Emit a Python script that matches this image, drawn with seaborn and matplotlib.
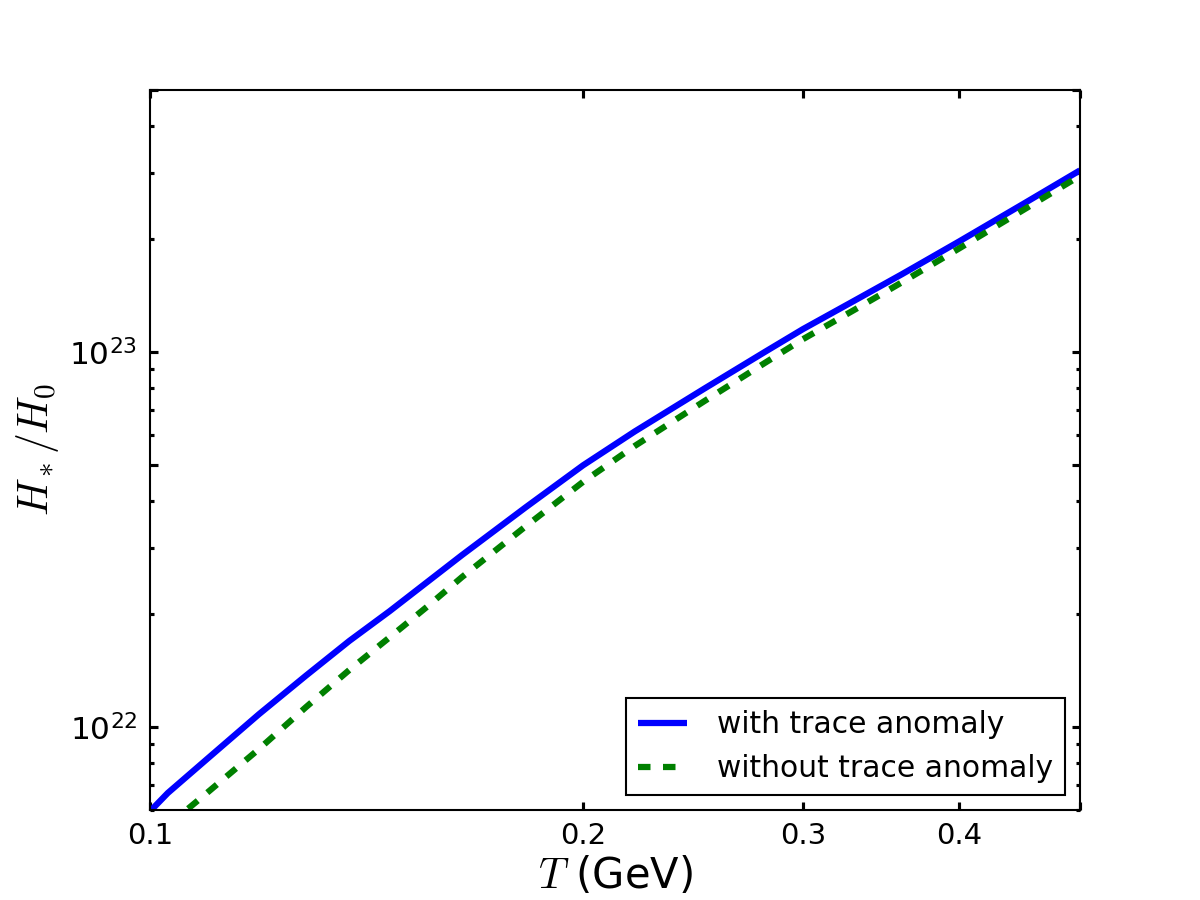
import numpy as np
import pandas as pd
import matplotlib
matplotlib.use("Agg")
import matplotlib.pyplot as plt
import seaborn as sns
from matplotlib.ticker import FixedLocator, NullLocator, FixedFormatter

# temperature grid (axis units) and the two Hubble-rate curves
T = [0.09, 0.093, 0.10, 0.11, 0.12, 0.13, 0.14, 0.15, 0.16, 0.18,
     0.20, 0.22, 0.25, 0.28, 0.30, 0.33, 0.36, 0.40, 0.45, 0.50]
with_trace = [5.95e21, 6.66e21, 8.21e21, 1.080e22, 1.370e22, 1.696e22, 2.035e22,
              2.432e22, 2.873e22, 3.856e22, 4.985e22, 6.138e22, 7.978e22,
              1.003e23, 1.151e23, 1.372e23, 1.612e23, 1.971e23, 2.480e23, 3.052e23]
without_trace = [4.96e21, 5.45e21, 6.67e21, 8.72e21, 1.129e22, 1.419e22, 1.733e22,
                 2.091e22, 2.510e22, 3.431e22, 4.504e22, 5.615e22, 7.387e22,
                 9.376e22, 1.082e23, 1.297e23, 1.534e23, 1.888e23, 2.389e23, 2.951e23]

x_ticks = [0.09, 0.2, 0.3, 0.4, 0.5]
x_ticklabels = ["0.1", "0.2", "0.3", "0.4", ""]
y_ticks = [1e22, 5e22, 1e23, 5e23]
y_ticklabels = [r"$\mathdefault{10^{22}}$", "", r"$\mathdefault{10^{23}}$", ""]

sns.set_style("ticks")
plt.rcParams["font.family"] = ["DejaVu Sans"]
plt.rcParams["mathtext.fontset"] = "cm"
plt.rcParams["text.color"] = "black"
plt.rcParams["axes.labelcolor"] = "black"

fig, ax = plt.subplots(figsize=(8, 6), dpi=150)
fig.subplots_adjust(left=0.125, right=0.9, bottom=0.1, top=0.9)

sns.lineplot(x=T, y=with_trace, ax=ax, color="blue", linewidth=3,
             solid_capstyle="butt", label="with trace anomaly")
sns.lineplot(x=T, y=without_trace, ax=ax, color="green", linewidth=3,
             linestyle=(0, (2, 2)), label="without trace anomaly")

ax.set_xscale("log")
ax.set_yscale("log")
ax.set_xlim(0.09, 0.5)
ax.set_ylim(6e21, 5e23)

ax.xaxis.set_major_locator(FixedLocator(x_ticks))
ax.xaxis.set_major_formatter(FixedFormatter(x_ticklabels))
ax.xaxis.set_minor_locator(NullLocator())

minor_y = [k * 10.0 ** e for e in (21, 22, 23) for k in range(2, 10)]
ax.yaxis.set_major_locator(FixedLocator(y_ticks))
ax.yaxis.set_major_formatter(FixedFormatter(y_ticklabels))
ax.yaxis.set_minor_locator(FixedLocator(minor_y))

ax.tick_params(which="both", direction="in", top=True, right=True,
               colors="black", labelcolor="black")
ax.tick_params(axis="x", labelsize=14)
ax.tick_params(axis="y", labelsize=15)
ax.tick_params(which="major", length=4, width=1.5, pad=6)
ax.tick_params(which="minor", length=2, width=1.5)

for spine in ax.spines.values():
    spine.set_linewidth(1.0)
    spine.set_color("black")

ax.set_xlabel(r"$T$ (GeV)", fontsize=20, labelpad=2)
ax.set_ylabel(r"$H_*/H_0$", fontsize=20)

leg = ax.legend(loc="lower right", fontsize=14.3, fancybox=False,
                framealpha=1, edgecolor="black", handlelength=1.65,
                handletextpad=1.0)
leg.get_frame().set_linewidth(1.0)
for txt in leg.get_texts():
    txt.set_color("black")

fig.savefig("out.png", dpi=150)
